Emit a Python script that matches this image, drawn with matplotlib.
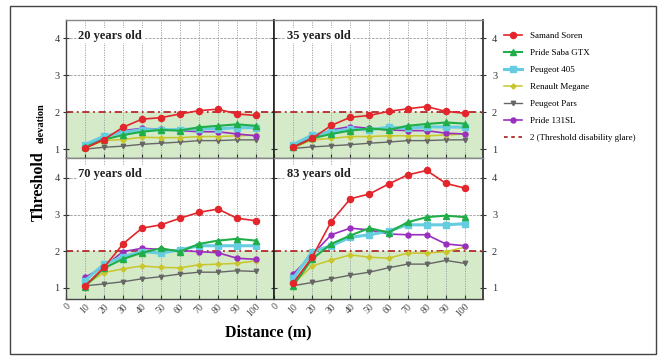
import matplotlib
matplotlib.use('Agg')
import matplotlib.pyplot as plt
from matplotlib.lines import Line2D
from matplotlib.patches import Rectangle

# ---------------- data ----------------
distance = [10, 20, 30, 40, 50, 60, 70, 80, 90, 100]
x_ticks = [0, 10, 20, 30, 40, 50, 60, 70, 80, 90, 100]
y_ticks = [1, 2, 3, 4]
panel_titles = ["20 years old", "35 years old", "70 years old", "83 years old"]
threshold = 2

# each list: [20 yrs, 35 yrs, 70 yrs, 83 yrs]
samand_soren = [
    [1.02, 1.26, 1.59, 1.81, 1.85, 1.95, 2.04, 2.08, 1.95, 1.91],
    [1.05, 1.29, 1.64, 1.86, 1.91, 2.02, 2.09, 2.15, 2.02, 1.97],
    [1.06, 1.56, 2.20, 2.63, 2.72, 2.90, 3.06, 3.15, 2.90, 2.83],
    [1.13, 1.84, 2.81, 3.43, 3.56, 3.83, 4.08, 4.20, 3.85, 3.72],
]
pride_saba_gtx = [
    [1.05, 1.26, 1.38, 1.47, 1.52, 1.50, 1.59, 1.63, 1.67, 1.63],
    [1.05, 1.29, 1.41, 1.50, 1.56, 1.52, 1.63, 1.68, 1.72, 1.69],
    [1.04, 1.54, 1.79, 1.96, 2.08, 1.99, 2.20, 2.29, 2.34, 2.29],
    [1.06, 1.79, 2.20, 2.43, 2.63, 2.51, 2.79, 2.93, 2.97, 2.93],
]
peugeot_405 = [
    [1.12, 1.35, 1.45, 1.53, 1.52, 1.53, 1.55, 1.55, 1.58, 1.58],
    [1.12, 1.38, 1.47, 1.54, 1.52, 1.59, 1.56, 1.60, 1.60, 1.59],
    [1.20, 1.65, 1.85, 1.99, 1.95, 2.04, 2.15, 2.15, 2.15, 2.15],
    [1.26, 1.99, 2.15, 2.38, 2.45, 2.55, 2.72, 2.72, 2.72, 2.75],
]
renault_megane = [
    [1.03, 1.23, 1.26, 1.32, 1.31, 1.31, 1.34, 1.34, 1.36, 1.38],
    [1.03, 1.25, 1.29, 1.34, 1.34, 1.36, 1.36, 1.36, 1.38, 1.41],
    [1.08, 1.42, 1.52, 1.60, 1.56, 1.55, 1.63, 1.65, 1.67, 1.74],
    [1.11, 1.60, 1.76, 1.90, 1.84, 1.81, 1.95, 1.95, 1.99, 2.11],
]
peugeot_pars = [
    [1.00, 1.05, 1.08, 1.13, 1.16, 1.19, 1.23, 1.23, 1.25, 1.25],
    [1.02, 1.06, 1.09, 1.12, 1.16, 1.19, 1.23, 1.23, 1.25, 1.25],
    [1.06, 1.11, 1.17, 1.25, 1.31, 1.38, 1.43, 1.43, 1.47, 1.45],
    [1.06, 1.15, 1.25, 1.35, 1.43, 1.55, 1.65, 1.65, 1.75, 1.67],
]
pride_131sl = [
    [1.08, 1.30, 1.50, 1.56, 1.54, 1.50, 1.47, 1.47, 1.41, 1.36],
    [1.10, 1.30, 1.52, 1.61, 1.56, 1.52, 1.50, 1.50, 1.43, 1.41],
    [1.29, 1.58, 1.99, 2.08, 2.05, 2.02, 1.99, 1.96, 1.81, 1.78],
    [1.38, 1.90, 2.45, 2.63, 2.58, 2.47, 2.45, 2.45, 2.20, 2.15],
]

series = [
    # name, values, color, marker, ms, lw
    ("Peugeot Pars", peugeot_pars, "#666666", "v", 3.2, 1.0),
    ("Renault Megane", renault_megane, "#c8c62a", "D", 2.6, 1.1),
    ("Pride 131SL", pride_131sl, "#9a2fbf", "o", 3.6, 1.2),
    ("Peugeot 405", peugeot_405, "#66cde0", "s", 4.2, 2.2),
    ("Pride Saba GTX", pride_saba_gtx, "#1fae48", "^", 4.2, 1.5),
    ("Samand Soren", samand_soren, "#e2262b", "o", 4.4, 1.2),
]
legend_order = ["Samand Soren", "Pride Saba GTX", "Peugeot 405",
                "Renault Megane", "Peugeot Pars", "Pride 131SL"]

SERIF = ["Liberation Serif", "DejaVu Serif"]
plt.rcParams['font.family'] = SERIF

W, H = 659, 356
fig = plt.figure(figsize=(W / 100, H / 100), dpi=100)

def fx(px):
    return px / W

def fy(py):
    return 1 - py / H

lx0, rx0 = 66, 274
rx1 = 483
ty0, mid, by1 = 20, 158, 299

positions = [
    (fx(lx0), fy(mid), fx(rx0 - lx0), (mid - ty0) / H),
    (fx(rx0), fy(mid), fx(rx1 - rx0), (mid - ty0) / H),
    (fx(lx0), fy(by1), fx(rx0 - lx0), (by1 - mid) / H),
    (fx(rx0), fy(by1), fx(rx1 - rx0), (by1 - mid) / H),
]
ylims = [(0.76, 4.49), (0.76, 4.49), (0.70, 4.54), (0.70, 4.54)]

handles = {}
for i, pos in enumerate(positions):
    ax = fig.add_axes(pos)
    ax.set_xlim(0, 109.5)
    ax.set_ylim(*ylims[i])
    ax.axhspan(ylims[i][0], threshold, color="#d4eac8", zorder=0, lw=0)
    for xv in distance:
        ax.axvline(xv, color="#9a9a9a", lw=0.6, ls=(0, (1.5, 1.5)), zorder=1)
    for yv in [3, 4]:
        ax.axhline(yv, color="#9a9a9a", lw=0.6, ls=(0, (3, 1.5)), zorder=1)
    ax.axhline(threshold, color="#b22a2a", lw=1.3, ls=(0, (4, 2, 1, 2)), zorder=2)
    for name, vals, col, mk, ms, lw in series:
        ln, = ax.plot(distance, vals[i], color=col, marker=mk, ms=ms, lw=lw,
                      mec=col, mfc=col, zorder=3)
        handles[name] = ln
    ax.text(0.06, 0.93, panel_titles[i], transform=ax.transAxes, ha="left", va="top",
            fontsize=9, fontweight="bold", family=SERIF, color="#222222",
            bbox=dict(facecolor="white", edgecolor="none", pad=1.0), zorder=5)
    ax.set_xticks(x_ticks)
    ax.set_yticks(y_ticks)
    for s in ax.spines.values():
        s.set_color("#444444")
        s.set_linewidth(1.0)
    ax.spines["top"].set_color("#888888")
    if i in (0, 2):
        ax.spines["right"].set_linewidth(1.2)
        ax.spines["right"].set_color("#222222")
    else:
        ax.spines["left"].set_linewidth(1.2)
        ax.spines["left"].set_color("#222222")
        ax.spines["right"].set_linewidth(1.4)
    ax.tick_params(axis="x", direction="in", length=3, width=0.8, color="#333333",
                   labelsize=7, labelcolor="#444444", pad=2)
    ax.tick_params(axis="y", direction="inout", length=5, width=0.8, color="#333333",
                   labelsize=7.5, labelcolor="#333333")
    if i in (0, 1):
        ax.tick_params(axis="x", labelbottom=False)
    else:
        for lab in ax.get_xticklabels():
            lab.set_rotation(45)
            lab.set_ha("right")
            lab.set_va("top")
            lab.set_rotation_mode("anchor")
    if i in (1, 3):
        ax.tick_params(axis="y", labelleft=False, right=True, labelright=True, pad=4)
    else:
        ax.tick_params(axis="y", pad=2)

leg_handles = [Line2D([], [], color=handles[n].get_color(), marker=handles[n].get_marker(),
                      ms=handles[n].get_markersize(), lw=handles[n].get_linewidth())
               for n in legend_order]
leg_handles.append(Line2D([], [], color="#b22a2a", lw=1.3, ls=(0, (2, 2, 2, 2))))
leg_labels = legend_order + ["2 (Threshold disability glare)"]
fig.legend(leg_handles, leg_labels, loc="upper left",
           bbox_to_anchor=(fx(496), fy(24)), frameon=False, fontsize=6.5,
           handlelength=2.0, handletextpad=0.9, labelspacing=0.95,
           prop={"family": SERIF, "size": 6.5})

fig.text(fx(39), fy(186), "Threshold", rotation=90, ha="center", va="center",
         fontsize=11.5, fontweight="bold", family=SERIF)
fig.text(fx(41), fy(123), "elevation", rotation=90, ha="center", va="center",
         fontsize=7.5, fontweight="bold", family=SERIF)
fig.text(fx(268), fy(332), "Distance (m)", ha="center", va="center",
         fontsize=11.5, fontweight="bold", family=SERIF)

fig.patches.append(Rectangle((fx(10), fy(354)), fx(646), (354 - 6) / H,
                             transform=fig.transFigure, fill=False,
                             edgecolor="#444444", lw=1.0))

fig.savefig("out.png", dpi=100)
